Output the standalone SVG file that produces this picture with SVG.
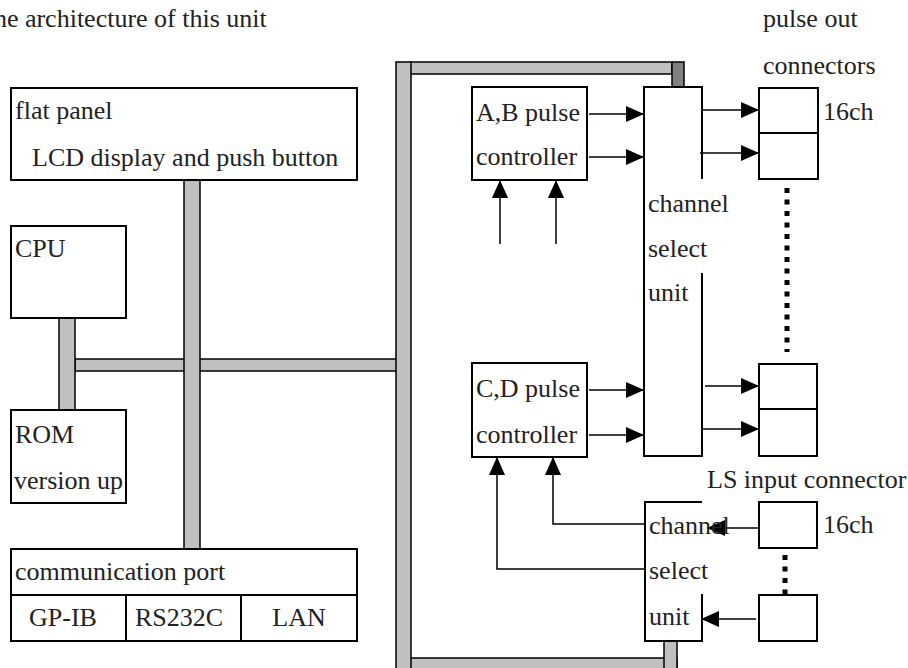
<svg xmlns="http://www.w3.org/2000/svg" width="908" height="668" viewBox="0 0 908 668">
<style>
text{font-family:"Liberation Serif","Times New Roman",serif;font-size:26px;fill:#222}
.box{fill:#fff;stroke:#000;stroke-width:2}
.edge{fill:none;stroke:#000;stroke-width:2}
.bus{fill:#c0c0c0;stroke:#000;stroke-width:1.5}
.stub{fill:#808080;stroke:#000;stroke-width:1.5}
.wire{fill:none;stroke:#000;stroke-width:1.5}
.arr{fill:none;stroke:#000;stroke-width:1.5;marker-end:url(#ah)}
.dots{fill:none;stroke:#000;stroke-width:5;stroke-dasharray:5 6.5}
</style>
<defs>
<marker id="ah" markerUnits="userSpaceOnUse" markerWidth="18" markerHeight="16" refX="18" refY="8" orient="auto">
<path d="M0,0 L18,8 L0,16 z" fill="#000"/>
</marker>
</defs>
<rect width="908" height="668" fill="#fff"/>
<text x="-22" y="27">The architecture of this unit</text>
<text x="763" y="27">pulse out</text>
<text x="763" y="74">connectors</text>
<text x="707" y="488">LS input connector</text>

<g id="connectors">
  <rect class="bus" x="75" y="359" width="323" height="12"/>
  <rect class="bus" x="184" y="180" width="16" height="369"/>
  <rect class="bus" x="59" y="316" width="16" height="94"/>
  <rect class="bus" x="410" y="62" width="262" height="12"/>
  <rect class="stub" x="672" y="62" width="12" height="25"/>
  <rect class="bus" x="410" y="658" width="267" height="16"/>
  <rect class="bus" x="664" y="641" width="13" height="30"/>
  <rect class="bus" x="396" y="62" width="15" height="612"/>
  <line class="arr" x1="589" y1="114" x2="644" y2="114"/>
  <line class="arr" x1="589" y1="157" x2="644" y2="157"/>
  <line class="arr" x1="500" y1="244" x2="500" y2="180"/>
  <line class="arr" x1="556" y1="244" x2="556" y2="180"/>
  <line class="arr" x1="589" y1="390" x2="644" y2="390"/>
  <line class="arr" x1="589" y1="435" x2="644" y2="435"/>
  <polyline class="arr" points="644,569 497,569 497,457"/>
  <polyline class="arr" points="644,524 553,524 553,457"/>
  <line class="arr" x1="702" y1="110" x2="759" y2="110"/>
  <line class="arr" x1="700" y1="153" x2="759" y2="153"/>
  <line class="arr" x1="705" y1="386" x2="759" y2="386"/>
  <line class="arr" x1="702" y1="429" x2="759" y2="429"/>
  <line class="arr" x1="759" y1="528" x2="707" y2="528"/>
  <line class="arr" x1="756" y1="619" x2="701" y2="619"/>
  <line class="dots" x1="787" y1="188" x2="787" y2="352"/>
  <line class="dots" x1="785" y1="555" x2="785" y2="594"/>
</g>

<g id="flat-panel">
  <rect class="box" x="11" y="88" width="346" height="92"/>
  <text x="15" y="119">flat panel</text>
  <text x="32" y="166">LCD display and push button</text>
</g>
<g id="cpu">
  <rect class="box" x="11" y="226" width="115" height="92"/>
  <text x="15" y="257">CPU</text>
</g>
<g id="rom">
  <rect class="box" x="11" y="410" width="115" height="93"/>
  <text x="15" y="443">ROM</text>
  <text x="14" y="489">version up</text>
</g>
<g id="communication-port">
  <rect class="box" x="11" y="549" width="346" height="92"/>
  <line class="edge" x1="11" y1="595" x2="357" y2="595"/>
  <line class="edge" x1="126" y1="595" x2="126" y2="641"/>
  <line class="edge" x1="241" y1="595" x2="241" y2="641"/>
  <text x="15" y="580">communication port</text>
  <text x="63" y="626" text-anchor="middle">GP-IB</text>
  <text x="179" y="626" text-anchor="middle">RS232C</text>
  <text x="299" y="626" text-anchor="middle">LAN</text>
</g>
<g id="ab-pulse-controller">
  <rect class="box" x="472" y="87" width="115" height="93"/>
  <text x="476" y="121">A,B pulse</text>
  <text x="476" y="165">controller</text>
</g>
<g id="cd-pulse-controller">
  <rect class="box" x="472" y="363" width="115" height="94"/>
  <text x="476" y="397">C,D pulse</text>
  <text x="476" y="443">controller</text>
</g>
<g id="channel-select-upper">
  <path class="edge" d="M702,179 V87 H644 V456 H702 V273"/>
  <text x="648" y="212">channel</text>
  <text x="648" y="257">select</text>
  <text x="648" y="301">unit</text>
</g>
<g id="channel-select-lower">
  <path class="edge" d="M702,502 H645 V641 H702 V594"/>
  <text x="649" y="534">channel</text>
  <text x="649" y="579">select</text>
  <text x="649" y="625">unit</text>
</g>
<g id="pulse-out-upper">
  <rect class="box" x="759" y="88" width="59" height="91"/>
  <line class="edge" x1="759" y1="133" x2="818" y2="133"/>
  <text x="823" y="120">16ch</text>
</g>
<g id="pulse-out-lower">
  <rect class="box" x="759" y="364" width="58" height="92"/>
  <line class="edge" x1="759" y1="409" x2="817" y2="409"/>
</g>
<g id="ls-input-1">
  <rect class="box" x="759" y="502" width="58" height="46"/>
  <text x="823" y="533">16ch</text>
</g>
<g id="ls-input-2">
  <rect class="box" x="759" y="595" width="58" height="46"/>
</g>
</svg>
